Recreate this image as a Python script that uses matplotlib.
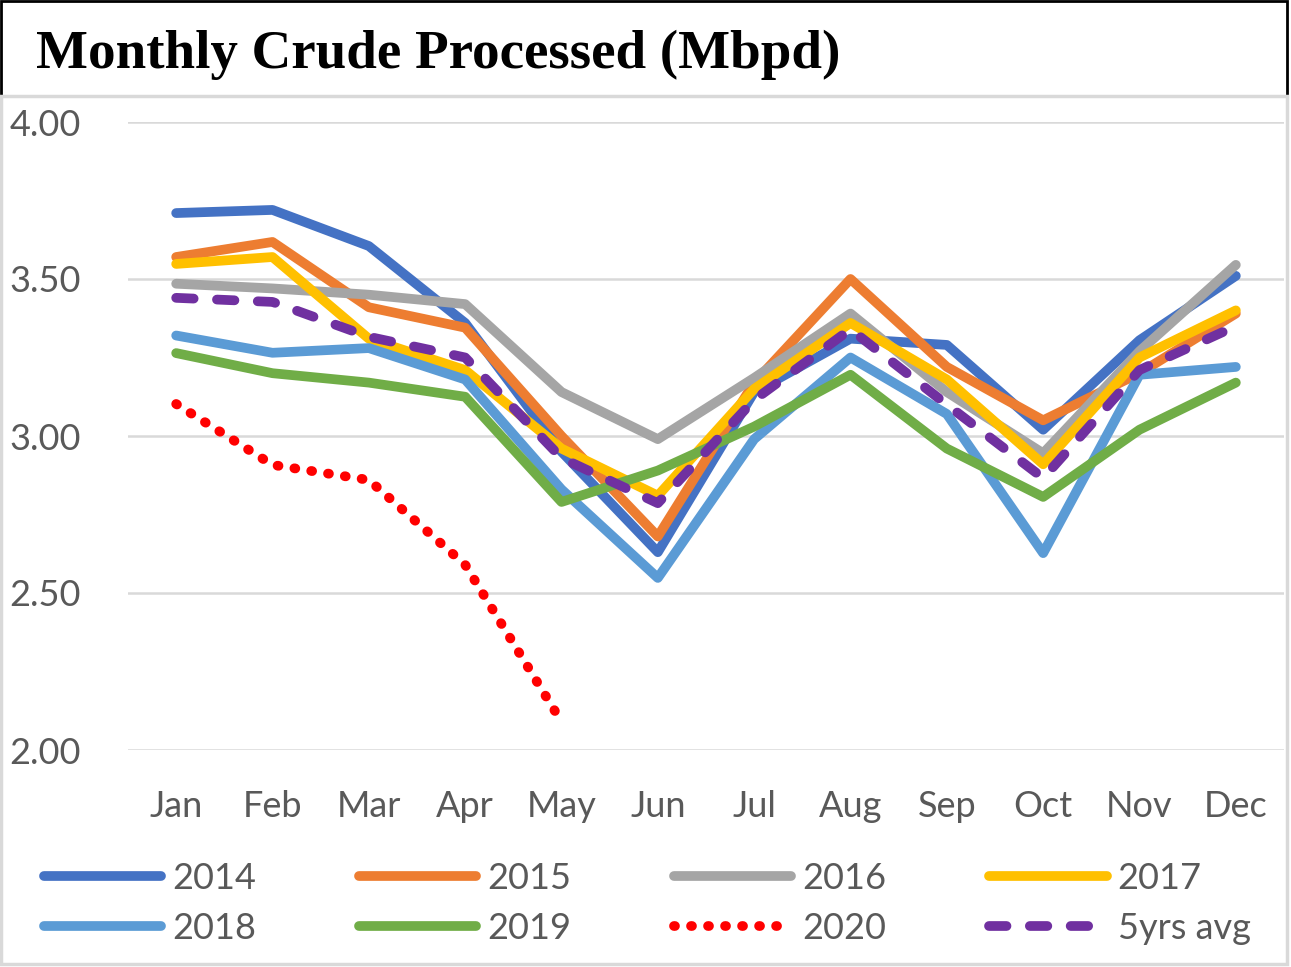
import matplotlib.pyplot as plt
from matplotlib.patches import Rectangle

months = ["Jan", "Feb", "Mar", "Apr", "May", "Jun",
          "Jul", "Aug", "Sep", "Oct", "Nov", "Dec"]

y2014 = [3.71, 3.72, 3.605, 3.36, 2.95, 2.63, 3.14, 3.31, 3.29, 3.02, 3.305, 3.51]
y2015 = [3.57, 3.618, 3.41, 3.345, 3.00, 2.68, 3.17, 3.50, 3.22, 3.05, 3.20, 3.39]
y2016 = [3.485, 3.47, 3.45, 3.42, 3.14, 2.99, 3.185, 3.39, 3.14, 2.945, 3.27, 3.545]
y2017 = [3.548, 3.57, 3.31, 3.21, 2.96, 2.81, 3.15, 3.36, 3.18, 2.91, 3.25, 3.40]
y2018 = [3.32, 3.265, 3.28, 3.18, 2.83, 2.548, 2.99, 3.25, 3.07, 2.627, 3.195, 3.22]
y2019 = [3.264, 3.20, 3.17, 3.125, 2.79, 2.89, 3.03, 3.195, 2.96, 2.806, 3.02, 3.17]
y2020 = [3.102, 2.908, 2.86, 2.59, 2.09]
avg5 = [3.44, 3.427, 3.316, 3.25, 2.93, 2.786, 3.115, 3.34, 3.10, 2.866, 3.21, 3.35]

yticks = [2.0, 2.5, 3.0, 3.5, 4.0]

W, H = 1291, 967
fig = plt.figure(figsize=(W / 100, H / 100), dpi=100)
ax = fig.add_axes([128 / W, 1 - 750 / H, (1284 - 128) / W, (750 - 122) / H])

lw = 7
x = list(range(12))
solid = dict(lw=lw, solid_capstyle="round", solid_joinstyle="round")
l14, = ax.plot(x, y2014, color="#4472C4", label="2014", **solid)
l15, = ax.plot(x, y2015, color="#ED7D31", label="2015", **solid)
l16, = ax.plot(x, y2016, color="#A5A5A5", label="2016", **solid)
l17, = ax.plot(x, y2017, color="#FFC000", label="2017", **solid)
l18, = ax.plot(x, y2018, color="#5B9BD5", label="2018", **solid)
l19, = ax.plot(x, y2019, color="#70AD47", label="2019", **solid)
l20, = ax.plot(x[:len(y2020)], y2020, color="#FF0000", label="2020", lw=lw,
               linestyle=(0, (0.1, 1.65)), dash_capstyle="round")
lav, = ax.plot(x, avg5, color="#7030A0", label="5yrs avg", lw=lw,
               linestyle=(0, (1.8, 2.4)), dash_capstyle="round",
               dash_joinstyle="round")

ax.set_xlim(-0.5, 11.5)
ax.set_ylim(2.0, 4.0)
ax.set_yticks(yticks)
ax.set_yticklabels([f"{v:.2f}" for v in yticks])
ax.set_xticks(x)
ax.set_xticklabels(months)
ax.grid(axis="y", color="#D9D9D9", lw=1.8)
ax.set_axisbelow(True)
for s in ax.spines.values():
    s.set_visible(False)
ax.tick_params(length=0, labelsize=26, labelcolor="#595959")
ax.tick_params(axis="y", pad=34)
ax.tick_params(axis="x", pad=29)
for t in ax.get_xticklabels() + ax.get_yticklabels():
    t.set_family(["Lato", "DejaVu Sans"])

# row-wise legend order
handles = [l14, l18, l15, l19, l16, l20, l17, lav]
leg = fig.legend(handles=handles, labels=[h.get_label() for h in handles],
                 ncol=4, loc="upper left", bbox_to_anchor=(44 / W, 1 - 862 / H),
                 frameon=False, borderpad=0, borderaxespad=0,
                 handlelength=3.25, handletextpad=0.3, columnspacing=2.85,
                 labelspacing=0.46, prop={"family": ["Lato", "DejaVu Sans"], "size": 26})
for t in leg.get_texts():
    t.set_color("#595959")

# title box and chart border
fig.add_artist(Rectangle((1 / W, 1 - 96 / H), 1286 / W, 95 / H,
                         transform=fig.transFigure, fill=False,
                         edgecolor="black", lw=2))
fig.add_artist(Rectangle((1.5 / W, 1 - 964 / H), 1285.5 / W, 868 / H,
                         transform=fig.transFigure, fill=False,
                         edgecolor="#D9D9D9", lw=2.5))
fig.text(36 / W, 1 - 68 / H, "Monthly Crude Processed (Mbpd)",
         family=["Liberation Serif", "DejaVu Serif"], weight="bold",
         fontsize=39.6, va="baseline", ha="left")

fig.savefig("out.png", dpi=100)
